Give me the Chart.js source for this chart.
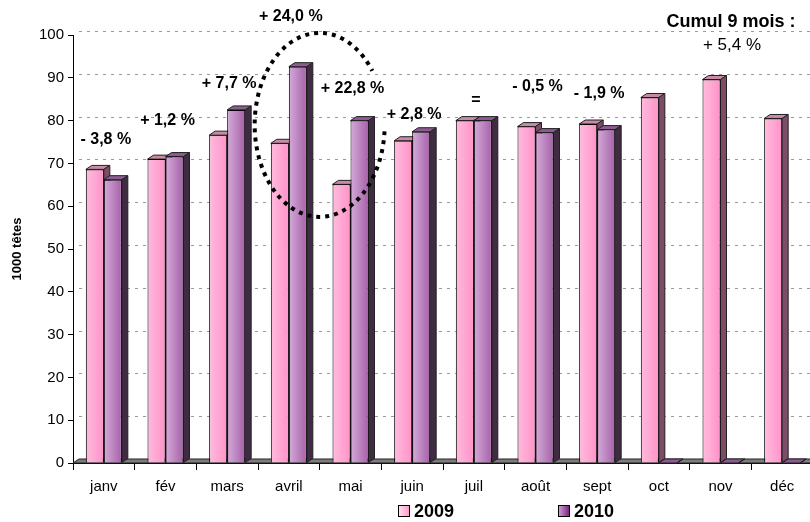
<!DOCTYPE html>
<html>
<head>
<meta charset="utf-8">
<script src="https://cdn.jsdelivr.net/npm/chart.js@4"></script>
<style>
  body { margin: 0; overflow: hidden; background: #fff; }
  #wrap { width: 810px; height: 522px; overflow: hidden; }
</style>
</head>
<body>
<div id="wrap"><canvas id="myChart" width="813" height="522"></canvas></div>
<script>
const months = ['janv', 'fév', 'mars', 'avril', 'mai', 'juin', 'juil', 'août', 'sept', 'oct', 'nov', 'déc'];
const values2009 = [68.6, 71.0, 76.6, 74.7, 65.1, 75.3, 80.0, 78.6, 79.2, 85.4, 89.6, 80.5];
const values2010 = [66.2, 71.6, 82.5, 92.6, 80.0, 77.4, 80.0, 77.2, 77.9, 0, 0, 0];
const yTicks = [0, 10, 20, 30, 40, 50, 60, 70, 80, 90, 100];
const notes = ['- 3,8 %', '+ 1,2 %', '+ 7,7 %', '+ 24,0 %', '+ 22,8 %', '+ 2,8 %', '=', '- 0,5 %', '- 1,9 %'];
const cumulTitle = 'Cumul 9 mois :';
const cumulValue = '+ 5,4 %';

// where each note sits, in axis units
const noteLevel = [75.5, 79.9, 88.6, 104.2, 87.4, 81.3, 84.6, 87.9, 86.2];

const FONT = '"Liberation Sans", Arial, sans-serif';
const catPct = 0.584;
const depthX = 6, depthY = 4;

const looks = [
    { front: ['#ffe6f3', '#ff92c8'], top: '#c98aa6', side: '#7d4c66' },
    { front: ['#d3abd8', '#7a167a'], top: '#8e5a93', side: '#3f2c42' }
];

function frontFill(c) {
    const look = looks[c.datasetIndex];
    const chart = c.chart;
    const xs = chart.scales.x;
    if (!xs || c.type !== 'data') return look.front[1];
    const w = xs.width / months.length * catPct;
    const cx = xs.getPixelForValue(c.dataIndex);
    if (!Number.isFinite(cx) || !Number.isFinite(w) || w <= 0) return look.front[1];
    const left = c.datasetIndex === 0 ? cx - w : cx;
    const g = chart.ctx.createLinearGradient(left, 0, left + w, 0);
    g.addColorStop(0, look.front[0]);
    g.addColorStop(1, look.front[1]);
    return g;
}

function poly(ctx, pts, fill) {
    ctx.beginPath();
    ctx.moveTo(pts[0][0], pts[0][1]);
    for (let i = 1; i < pts.length; i++) ctx.lineTo(pts[i][0], pts[i][1]);
    ctx.closePath();
    ctx.fillStyle = fill;
    ctx.fill();
    ctx.stroke();
}

const depthPlugin = {
    id: 'depth',
    beforeDatasetsDraw(chart) {
        const ctx = chart.ctx;
        const { left, right } = chart.chartArea;
        const ys = chart.scales.y;
        const base = ys.getPixelForValue(0);
        ctx.save();
        // back wall grid
        ctx.strokeStyle = '#999';
        ctx.lineWidth = 1;
        ctx.setLineDash([3, 5]);
        yTicks.slice(1).forEach(v => {
            const y = Math.round(ys.getPixelForValue(v) - depthY) + 0.5;
            ctx.beginPath();
            ctx.moveTo(left + depthX, y);
            ctx.lineTo(right + depthX, y);
            ctx.stroke();
        });
        ctx.setLineDash([]);
        // floor
        ctx.strokeStyle = '#222';
        poly(ctx, [[left, base], [right, base], [right + depthX, base - depthY], [left + depthX, base - depthY]], '#7d7d7d');
        // top and side faces
        chart.data.datasets.forEach((ds, i) => {
            const look = looks[i];
            chart.getDatasetMeta(i).data.forEach(el => {
                const p = el.getProps(['x', 'y', 'width', 'base'], true);
                const l = p.x - p.width / 2, r = p.x + p.width / 2;
                poly(ctx, [[l, p.y], [l + depthX, p.y - depthY], [r + depthX, p.y - depthY], [r, p.y]], look.top);
                poly(ctx, [[r, p.y], [r + depthX, p.y - depthY], [r + depthX, p.base - depthY], [r, p.base]], look.side);
            });
        });
        ctx.restore();
    },
    afterDraw(chart) {
        const ctx = chart.ctx;
        const xs = chart.scales.x, ys = chart.scales.y;
        const { right } = chart.chartArea;
        ctx.save();
        // circle round avril / mai
        const ex = (xs.getPixelForValue(3) + xs.getPixelForValue(4)) / 2;
        const ey = ys.getPixelForValue(79);
        ctx.strokeStyle = '#000';
        ctx.lineWidth = 4;
        ctx.setLineDash([4, 5]);
        ctx.beginPath();
        ctx.ellipse(ex, ey, 65, 92, 0, 4 * Math.PI / 180, 324 * Math.PI / 180);
        ctx.stroke();
        ctx.setLineDash([]);
        // variation notes
        ctx.fillStyle = '#000';
        ctx.textAlign = 'center';
        ctx.textBaseline = 'middle';
        ctx.font = 'bold 16px ' + FONT;
        notes.forEach((t, i) => {
            ctx.fillText(t, xs.getPixelForValue(i) + 2, ys.getPixelForValue(noteLevel[i]));
        });
        ctx.font = 'bold 18px ' + FONT;
        ctx.fillText(cumulTitle, right - 82, 22);
        ctx.font = '17px ' + FONT;
        ctx.fillText(cumulValue, right - 81, 45);
        // legend
        ctx.textAlign = 'left';
        ctx.font = 'bold 18px ' + FONT;
        const spots = [398, 558];
        chart.data.datasets.forEach((ds, i) => {
            const bx = spots[i], by = 505;
            const g = ctx.createLinearGradient(bx, 0, bx + 12, 0);
            g.addColorStop(0, looks[i].front[0]);
            g.addColorStop(1, looks[i].front[1]);
            ctx.fillStyle = g;
            ctx.fillRect(bx, by, 12, 12);
            ctx.strokeStyle = '#000';
            ctx.lineWidth = 1;
            ctx.strokeRect(bx + 0.5, by + 0.5, 11, 11);
            ctx.fillStyle = '#000';
            ctx.fillText(ds.label, bx + 16, by + 7);
        });
        ctx.restore();
    }
};

const ctx = document.getElementById('myChart').getContext('2d');

const myChart = new Chart(ctx, {
    type: 'bar',
    data: {
        labels: months,
        datasets: [{
            label: '2009',
            data: values2009,
            backgroundColor: frontFill,
            borderColor: '#000',
            borderWidth: 1,
            categoryPercentage: catPct,
            barPercentage: 1
        }, {
            label: '2010',
            data: values2010,
            backgroundColor: frontFill,
            borderColor: '#000',
            borderWidth: 1,
            categoryPercentage: catPct,
            barPercentage: 1
        }]
    },
    options: {
        responsive: false,
        animation: false,
        layout: { padding: { top: 35, right: 0, left: 0, bottom: 0 } },
        plugins: {
            legend: { display: false },
            tooltip: { enabled: false }
        },
        scales: {
            x: {
                afterFit: s => { s.height = 59; },
                grid: { display: true, drawOnChartArea: false, tickLength: 7, color: '#000' },
                border: { display: true, color: '#000' },
                ticks: { color: '#000', font: { family: FONT, size: 15 }, padding: 8 }
            },
            y: {
                min: 0,
                max: 100,
                afterFit: s => { s.width = 73; },
                afterBuildTicks: s => { s.ticks = yTicks.map(v => ({ value: v })); },
                grid: { display: true, drawOnChartArea: false, tickLength: 5, color: '#000' },
                border: { display: true, color: '#000' },
                ticks: { color: '#000', font: { family: FONT, size: 15 }, padding: 4 },
                title: {
                    display: true,
                    text: '1000 têtes',
                    color: '#000',
                    font: { family: FONT, size: 13, weight: 'bold' },
                    padding: { top: 10, bottom: 0 }
                }
            }
        }
    },
    plugins: [depthPlugin]
});
</script>
</body>
</html>
